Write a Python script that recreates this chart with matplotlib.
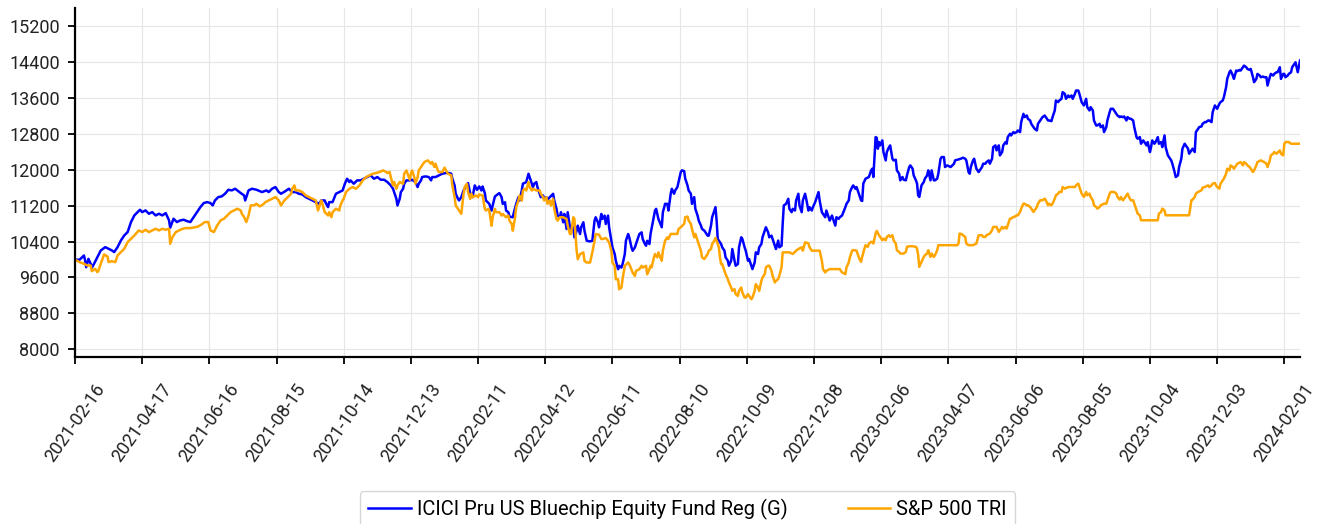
import matplotlib
matplotlib.use('Agg')
import matplotlib.pyplot as plt
import pandas as pd

plt.rcParams['font.family'] = ['Roboto', 'DejaVu Sans']

start_date = '2021-02-16'
fund_label = 'ICICI Pru US Bluechip Equity Fund Reg (G)'
bench_label = 'S&P 500 TRI'

# day offsets from start_date and values
fund_days = [
    0, 4, 8, 9, 10, 12, 14, 15, 17, 20, 23, 27, 30, 33, 35, 38, 41, 44, 47, 50,
    53, 56, 58, 60, 63, 66, 69, 72, 75, 78, 81, 84, 85, 88, 91, 94, 97, 100, 103, 106,
    109, 112, 115, 118, 121, 123, 125, 128, 131, 134, 137, 140, 143, 148, 151, 152, 155, 158, 162, 167,
    171, 173, 176, 179, 182, 184, 188, 191, 194, 197, 200, 203, 206, 209, 212, 215, 218, 220, 223, 224,
    226, 227, 230, 233, 236, 239, 241, 243, 245, 246, 249, 252, 255, 258, 261, 264, 267, 270, 273, 276,
    279, 282, 284, 285, 287, 288, 290, 291, 293, 294, 296, 299, 301, 304, 306, 307, 309, 310, 313, 316,
    318, 319, 322, 325, 328, 331, 334, 336, 337, 339, 340, 342, 343, 345,
    347, 349, 351, 353, 355, 357, 359, 361, 363, 364, 366, 367, 370, 372, 373, 375, 378, 379, 381, 382,
    384, 385, 387, 388, 391, 392, 394, 396, 397, 399, 400, 403, 405, 406, 408, 409, 410, 412, 413, 415,
    416, 418, 419, 421, 422, 424, 427, 428, 430, 431, 433, 434, 436, 437, 439, 440, 442, 443, 445, 446,
    448, 449, 451, 452, 454, 455, 457, 460, 462, 464, 465, 467, 468, 470, 471, 473, 474, 476, 477, 479,
    480, 482, 483, 485, 486, 488, 489, 491, 492, 494, 495, 497, 498, 500, 501, 503, 504, 506, 507, 509,
    510, 511, 513,
    514, 516, 518, 519, 521, 524, 525, 527, 529, 530, 532, 533, 535, 536, 538, 539, 541, 542, 544, 545,
    547, 548, 550, 551, 553, 554, 556, 557, 559, 560, 562, 563, 565, 566, 568, 569, 571, 572, 573, 574,
    575, 577, 578, 580, 581, 583, 584, 586, 587, 589, 590, 592, 593, 595, 596, 598, 599, 601, 602, 604,
    605, 607, 608, 610, 611, 613, 614, 616, 617, 619, 620, 622, 623, 625, 626, 628, 629, 631, 632, 633,
    635, 637, 638, 640, 641, 643, 644, 646, 647, 649, 650, 652, 653, 655, 656, 658, 659, 661, 664, 665,
    667, 668, 670, 671, 673, 674, 676, 677, 679, 680, 682, 683, 685, 688, 689, 691, 692, 694, 695, 697,
    698, 700,
    702, 703, 704, 706, 709, 711, 712, 713, 715, 716, 717, 718, 719, 721, 722, 724, 725, 727, 728, 730,
    731, 733, 734, 736, 737, 739, 740, 742, 743, 745, 746, 748, 749, 751, 752, 753, 754, 756, 758, 759,
    761, 762, 764, 765, 767, 768, 770, 771, 773, 774, 776, 777, 779, 782, 785, 786, 788, 791, 793, 795,
    796, 798, 799, 800, 802, 803, 804, 805, 807, 808, 810, 811, 813, 814, 816, 817, 819, 820, 822, 823,
    825, 826, 828, 829, 831, 832, 833, 835, 836, 838, 839, 841, 842, 844, 845, 847, 848, 850, 851, 853,
    854, 856, 857, 859, 860,
    864, 866, 867, 869, 870, 872, 873, 875, 876, 878, 879, 881, 882, 884, 885, 887, 888, 890, 891, 893,
    894, 896, 897, 899, 900, 901, 903, 904, 906, 907, 909, 910, 912, 913, 915, 916, 918, 919, 921, 922,
    924, 925, 927, 928, 930, 931, 933, 934, 936, 937, 939, 940, 942, 943, 945, 946, 948, 949, 951, 952,
    954, 955, 957, 958, 960, 961, 962, 964, 965, 967, 968, 970, 971, 973, 974, 976, 977, 979, 980, 982,
    983, 985, 986, 988, 989, 991, 992, 994, 995, 997, 998, 1000, 1001, 1003, 1004, 1006, 1007, 1009, 1010, 1012,
    1013, 1015, 1016, 1018, 1019, 1020, 1022, 1023, 1025, 1026, 1028, 1029, 1031, 1032, 1034, 1035, 1037, 1038, 1040, 1041,
    1043, 1044, 1046, 1047, 1049, 1050, 1052, 1053, 1055, 1056, 1058, 1059, 1061, 1062, 1064, 1065, 1067, 1068, 1070, 1071,
    1073, 1074, 1076, 1077, 1079, 1080, 1081, 1083, 1084, 1086, 1087, 1089, 1090, 1092, 1094,
]
fund_values = [
    10000, 9994, 10090, 9980, 9830, 10016, 9905, 9815, 9905, 10053, 10202, 10276, 10239, 10202, 10165, 10276, 10425, 10536, 10611, 10834,
    10982, 11056, 11108, 11056, 11094, 11019, 11056, 10982, 11019, 10982, 11034, 10871, 10707, 10908, 10834, 10871, 10886, 10856, 10834, 10945,
    11056, 11168, 11257, 11279, 11257, 11205, 11316, 11391, 11406, 11465, 11554, 11539, 11576, 11480, 11428, 11316, 11539, 11576, 11554, 11502,
    11539, 11502, 11576, 11613, 11502, 11464, 11524, 11576, 11502, 11502, 11464, 11449, 11390, 11353, 11316, 11278, 11241, 11316, 11316, 11256,
    11167, 11278, 11278, 11464, 11502, 11539, 11688, 11799, 11725, 11762, 11688, 11762, 11762, 11799, 11836, 11874, 11799, 11836, 11777, 11777,
    11725, 11650, 11576, 11502, 11353, 11204, 11353, 11502, 11576, 11688, 11762, 11762, 11777, 11725, 11613, 11688, 11762, 11836, 11851, 11836,
    11762, 11836, 11836, 11874, 11911, 11926, 11926, 11911, 11799, 11650, 11464, 11353, 11316, 11390,
    11537, 11627, 11702, 11463, 11388, 11650, 11552, 11627, 11537, 11627, 11478, 11314, 11239, 11090, 11202, 11403, 11463, 11478, 11388, 11239,
    11276, 11090, 11053, 10956, 10941, 11053, 11239, 11388, 11314, 11537, 11687, 11724, 11910, 11836, 11687, 11612, 11687, 11724, 11612, 11463,
    11388, 11426, 11351, 11388, 11329, 11388, 11463, 11314, 11127, 10978, 10941, 11053, 10829, 11015, 10680, 11053, 10717, 10642, 10717, 10493,
    10642, 10754, 10568, 10717, 10829, 10642, 10418, 10404, 10418, 10866, 10941, 10829, 10717, 11015, 10903, 10978, 10791, 10978, 10717, 10418,
    10269, 10120, 9971, 9784, 9859, 9822, 9896, 10120, 10418, 10568, 10493, 10269, 10195, 10269, 10344, 10493, 10568, 10605, 10456, 10344,
    10307, 10418, 10344,
    10570, 10830, 11091, 11128, 10905, 10719, 11054, 11240, 11240, 11091, 11464, 11575, 11464, 11538, 11613, 11724, 11948, 11985, 11970, 11799,
    11650, 11538, 11464, 11240, 11389, 11128, 10979, 10868, 10756, 10681, 10644, 10607, 10532, 10532, 10756, 10942, 11091, 11166, 10868, 10458,
    10421, 10346, 10272, 10197, 10048, 9974, 9862, 9974, 10234, 9974, 9862, 9899, 10272, 10495, 10458, 10272, 10197, 9974, 10011, 9862,
    9787, 9936, 10160, 10123, 10272, 10346, 10495, 10644, 10719, 10607, 10495, 10532, 10458, 10309, 10234, 10421, 10272, 10309, 10793, 11203,
    11240, 11352, 11128, 11054, 11128, 11091, 11315, 11464, 11203, 11054, 11315, 11464, 11352, 11091, 11166, 11091, 11166, 11277, 11501, 11315,
    11054, 11017, 10942, 11091, 10942, 10868, 10979, 10905, 10756, 10942, 10905, 10942, 10979, 11166, 11240, 11315, 11501, 11613, 11650, 11575,
    11613, 11464,
    11319, 11304, 11689, 11800, 11837, 11985, 12022, 11837, 12726, 12711, 12467, 12615, 12541, 12652, 12393, 12207, 12393, 12504, 12541, 12244,
    12207, 12222, 11985, 11911, 11763, 11837, 11778, 11763, 11874, 12059, 12096, 12022, 11874, 11763, 11689, 11430, 11393, 11652, 11726, 11800,
    11874, 11985, 11763, 11985, 11763, 11763, 11800, 11911, 12244, 12281, 12281, 12059, 12096, 12059, 12133, 12207, 12222, 12244, 12267, 12244,
    12207, 11948, 11911, 12059, 12207, 12244, 12133, 12022, 11948, 11985, 12059, 12133, 12133, 12170, 12207, 12133, 12244, 12504, 12541, 12430,
    12541, 12318, 12393, 12541, 12615, 12578, 12726, 12800, 12763, 12837, 12815, 12837, 12874, 12837, 13059, 13244, 13170, 13207, 13133, 13096,
    13022, 12948, 12911, 12874, 13022,
    13170, 13207, 13170, 13096, 13096, 13081, 13170, 13319, 13541, 13504, 13541, 13578, 13726, 13689, 13578, 13652, 13615, 13652, 13578, 13689,
    13763, 13763, 13689, 13504, 13467, 13430, 13578, 13393, 13319, 13393, 13319, 13096, 12985, 12985, 13022, 12948, 12985, 12837, 12948, 13096,
    13281, 13356, 13356, 13319, 13244, 13207, 13170, 13185, 13170, 13185, 13096, 13170, 13133, 13133, 13096, 12948, 12726, 12689, 12726, 12578,
    12652, 12615, 12541, 12615, 12393, 12504, 12652, 12578, 12615, 12726, 12578, 12615, 12504, 12763, 12504, 12319, 12281, 12207, 12133, 11948,
    11837, 11874, 12059, 12244, 12467, 12578, 12541, 12467, 12356, 12430, 12467, 12393, 12837, 12911, 12948, 12963, 13022, 13059, 13059, 13096,
    13096, 13059, 13281, 13430, 13393, 13356, 13467, 13504, 13541, 13615, 13837, 14022, 14170, 14207, 14096, 14022, 14207, 14193, 14222, 14207,
    14281, 14318, 14281, 14244, 14222, 14244, 14059, 13948, 14022, 14133, 14096, 14059, 14074, 14059, 14059, 13874, 14059, 14133, 14096, 14133,
    14170, 14170, 14281, 14022, 14133, 14133, 14059, 14096, 14133, 14170, 14281, 14356, 14392, 14170, 14430,
]

bench_days = [
    0, 4, 8, 11, 14, 15, 18, 20, 21, 23, 26, 29, 30, 33, 36, 38, 41, 44, 47, 50,
    53, 57, 60, 63, 66, 69, 72, 75, 78, 81, 84, 85, 87, 90, 93, 96, 99, 103, 108, 110,
    113, 116, 119, 121, 124, 127, 130, 133, 136, 139, 142, 145, 148, 149, 151, 153, 155, 157, 160, 162,
    165, 168,
    170, 173, 176, 179, 182, 184, 187, 190, 193, 194, 196, 197, 200, 203, 206, 209, 212, 215, 217, 218,
    220, 221, 223, 226, 227, 229, 230, 233, 236, 237, 239, 240, 242, 245, 248, 251, 254, 257, 260, 263,
    266, 269, 272, 275, 278, 279, 281, 282, 284, 285, 287, 288, 290, 293, 294, 296, 297, 299, 300, 301,
    303, 304, 306, 307, 310, 312, 315, 318, 319, 321, 322, 324, 325, 328, 330, 333, 336, 337, 339, 340,
    343, 345,
    347, 348, 350, 351, 353, 354, 355, 358, 360, 361, 364, 366, 367, 369, 370, 372, 373, 375, 376, 379,
    381, 382, 385, 387, 388, 390, 391, 393, 394, 396, 397, 399, 400, 402, 403, 405, 406, 408, 409, 412,
    415, 416, 418, 419, 421, 422, 424, 425, 427, 428, 430, 431, 433, 436, 439, 440, 442, 443, 445, 446,
    448, 449, 451, 454, 455, 457, 460, 461, 462, 464, 465, 468, 470, 471, 474, 476, 477, 479, 480, 482,
    483, 485, 486, 488, 489, 491, 494, 495, 498, 500, 501, 504, 506, 507, 510, 511, 513,
    514, 515, 517, 518, 520, 521, 524, 525, 527, 529, 530, 532, 535, 538, 539, 541, 544, 545, 547, 548,
    550, 551, 553, 554, 556, 557, 559, 560, 562, 563, 565, 566, 568, 569, 571, 572, 573, 575, 576, 577,
    578, 580, 581, 583, 584, 586, 587, 589, 590, 592, 593, 595, 596, 598, 599, 601, 602, 604, 605, 607,
    608, 610, 611, 613, 614, 616, 617, 619, 620, 622, 623, 625, 626, 628, 629, 631, 632, 635, 638, 641,
    644, 646, 649, 650, 652, 655, 656, 658, 661, 664, 665, 667, 668, 670, 671, 674, 680, 683, 685, 688,
    689, 691, 692, 694, 695, 698, 700,
    702, 703, 705, 706, 708, 709, 711, 712, 713, 715, 716, 718, 721, 722, 724, 725, 727, 728, 730, 731,
    733, 734, 736, 737, 740, 742, 743, 745, 748, 751, 752, 753, 754, 756, 758, 759, 761, 762, 764, 765,
    767, 768, 770, 771, 788, 789, 790, 792, 793, 795, 796, 798, 802, 805, 807, 810, 811, 813, 814, 817,
    819, 820, 823, 825, 826, 828, 829, 831, 832, 833, 835, 836, 838, 839, 841, 842, 844, 845, 847, 848,
    850, 851, 853, 854, 856, 857, 859, 860, 862,
    864, 866, 867, 869, 870, 872, 873, 875, 876, 878, 879, 881, 882, 884, 887, 890, 893, 894, 896, 897,
    899, 900, 901, 903, 904, 906, 907, 909, 910, 912, 913, 915, 916, 919, 921, 922, 924, 925, 928, 930,
    931, 933, 934, 936, 937, 939, 940, 942, 943, 945, 946, 948, 949, 951, 952, 967, 968, 970, 971, 973,
    974, 995, 997, 998, 1000, 1001, 1003, 1006, 1007, 1009, 1012, 1013, 1015, 1016, 1018, 1019, 1020, 1022, 1023, 1025,
    1026, 1028, 1029, 1031, 1032, 1034, 1035, 1037, 1038, 1041, 1043, 1044, 1046, 1047, 1049, 1050, 1052, 1053, 1055, 1056,
    1059, 1062, 1064, 1065, 1067, 1068, 1070, 1071, 1073, 1076, 1077, 1079, 1080, 1081, 1084, 1086, 1094,
]
bench_values = [
    10000, 9942, 9905, 9868, 9868, 9741, 9793, 9719, 9756, 9905, 10113, 10068, 9942, 9964, 9942, 10091, 10165, 10239, 10388, 10462,
    10536, 10648, 10611, 10663, 10611, 10648, 10685, 10648, 10685, 10663, 10685, 10351, 10499, 10611, 10648, 10685, 10700, 10700, 10722, 10737,
    10781, 10834, 10834, 10648, 10611, 10759, 10871, 10908, 10982, 11056, 11094, 11131, 11094, 11019, 10945, 10834, 10982, 11205, 11205, 11242,
    11183, 11227,
    11278, 11316, 11353, 11390, 11316, 11204, 11316, 11390, 11464, 11576, 11650, 11539, 11539, 11502, 11427, 11390, 11353, 11316, 11092, 11167,
    11316, 11241, 11055, 10981, 11055, 10944, 11055, 11130, 11092, 11204, 11316, 11353, 11502, 11576, 11613, 11576, 11650, 11762, 11836, 11874,
    11911, 11926, 11948, 11985, 11948, 11926, 11948, 11836, 11650, 11725, 11576, 11650, 11725, 11688, 11911, 11985, 11911, 11777, 11911, 11985,
    11836, 11688, 11836, 11985, 12097, 12171, 12208, 12134, 12171, 12060, 12134, 11985, 11948, 11948, 12045, 11911, 11874, 11650, 11390, 11204,
    11092, 11018,
    11463, 11612, 11687, 11500, 11351, 11463, 11388, 11426, 11388, 11448, 11426, 11127, 11090, 11127, 11090, 10754, 10941, 11127, 11053, 11053,
    10978, 11015, 10941, 10978, 10866, 10791, 10642, 10941, 11165, 11314, 11426, 11314, 11537, 11575, 11537, 11724, 11612, 11537, 11575, 11537,
    11537, 11463, 11388, 11314, 11388, 11239, 11314, 11202, 11351, 11127, 10903, 10866, 10941, 10941, 10903, 10754, 10568, 10568, 10941, 10903,
    10195, 10008, 10120, 10157, 9971, 9933, 9933, 10045, 10157, 10418, 10568, 10553, 10456, 10456, 10478, 10418, 10381, 10195, 9933, 9859,
    9561, 9561, 9337, 9374, 9561, 9859, 9933, 9896, 9710, 9635, 9747, 9784, 9859, 9822, 9859, 9672, 9784,
    9862, 9825, 10048, 10123, 10048, 10160, 9974, 10197, 10421, 10495, 10458, 10570, 10570, 10570, 10681, 10719, 10793, 10942, 10957, 10868,
    10793, 10681, 10495, 10570, 10421, 10346, 10197, 10048, 10011, 10048, 10123, 10197, 10234, 10346, 10421, 10480, 10421, 10272, 10048, 9899,
    9899, 9750, 9676, 9564, 9489, 9377, 9303, 9340, 9229, 9191, 9303, 9377, 9266, 9154, 9154, 9229, 9191, 9117, 9154, 9303,
    9452, 9377, 9303, 9526, 9601, 9676, 9825, 9862, 9862, 9750, 9638, 9489, 9526, 9564, 9638, 9825, 10160, 10160, 10160, 10123,
    10197, 10234, 10272, 10197, 10383, 10361, 10272, 10197, 10197, 10197, 10197, 9974, 9787, 9713, 9750, 9787, 9787, 9787, 9713, 9676,
    9825, 9936, 10048, 10197, 10212, 10197, 10048,
    9948, 10059, 10244, 10319, 10282, 10356, 10393, 10393, 10356, 10578, 10637, 10541, 10430, 10467, 10430, 10504, 10541, 10504, 10541, 10430,
    10356, 10207, 10170, 10133, 10133, 10170, 10282, 10296, 10296, 10282, 10244, 10096, 9837, 9948, 10059, 10096, 10133, 10207, 10059, 10133,
    10059, 10096, 10207, 10319, 10319, 10356, 10578, 10563, 10541, 10504, 10356, 10319, 10319, 10356, 10541, 10541, 10504, 10504, 10541, 10578,
    10652, 10726, 10726, 10615, 10652, 10726, 10689, 10726, 10689, 10763, 10911, 10911, 10948, 10948, 10985, 10985, 11059, 11133, 11244, 11244,
    11207, 11207, 11170, 11133, 11059, 11096, 11170, 11244, 11319,
    11319, 11356, 11319, 11207, 11244, 11207, 11244, 11356, 11430, 11467, 11504, 11504, 11615, 11578, 11615, 11615, 11615, 11652, 11689, 11615,
    11467, 11430, 11393, 11504, 11430, 11467, 11393, 11319, 11207, 11170, 11133, 11170, 11207, 11244, 11244, 11319, 11467, 11504, 11504, 11467,
    11393, 11333, 11393, 11319, 11356, 11430, 11467, 11356, 11319, 11319, 11244, 11096, 11022, 10985, 10874, 10874, 11022, 11059, 11133, 11096,
    10985, 10985, 11319, 11333, 11393, 11467, 11504, 11541, 11600, 11615, 11652, 11615, 11652, 11689, 11704, 11652, 11615, 11578, 11689, 11763,
    11800, 11911, 12022, 11985, 12096, 12059, 12022, 12096, 12133, 12170, 12096, 12170, 12133, 12096, 12059, 12022, 11948, 11985, 12096, 12170,
    12207, 12170, 12133, 12059, 12207, 12319, 12356, 12393, 12356, 12430, 12356, 12319, 12578, 12615, 12615, 12578, 12578,
]

y_ticks = [8000, 8800, 9600, 10400, 11200, 12000, 12800, 13600, 14400, 15200]
x_tick_step_days = 60
x_tick_count = 19

start = pd.Timestamp(start_date)
fund_dates = (start + pd.to_timedelta(fund_days, unit='D')).to_pydatetime()
bench_dates = (start + pd.to_timedelta(bench_days, unit='D')).to_pydatetime()

fig = plt.figure(figsize=(13.21, 5.24), dpi=100)
ax = fig.add_axes([75 / 1321, 1 - 357 / 524, (1300 - 75) / 1321, (357 - 8) / 524])

ax.plot(fund_dates, fund_values, color='#0000ff', lw=1.8, label=fund_label)
ax.plot(bench_dates, bench_values, color='#ffa500', lw=1.8, label=bench_label)

ax.set_xlim(fund_dates[0], fund_dates[-1])
ax.set_ylim(7830, 15600)

xt = pd.date_range(start, periods=x_tick_count, freq=f'{x_tick_step_days}D')
ax.set_xticks(xt.to_pydatetime())
ax.set_xticklabels([d.strftime('%Y-%m-%d') for d in xt], rotation=55, ha='center')
ax.set_yticks(y_ticks)
ax.set_yticklabels([str(v) for v in y_ticks])

ax.grid(True, color='#e6e6e6', lw=0.8)
ax.set_axisbelow(True)
for s in ['top', 'right']:
    ax.spines[s].set_visible(False)
for s in ['left', 'bottom']:
    ax.spines[s].set_linewidth(1.6)
    ax.spines[s].set_color('black')
ax.tick_params(axis='both', length=5, width=1.3, labelsize=13, colors='black', labelcolor='#222222')
ax.tick_params(axis='x', pad=12)
ax.tick_params(axis='y', pad=6)

leg = ax.legend(loc='upper center', bbox_to_anchor=(0.5, -0.383), ncol=2, fontsize=14.5,
                frameon=True, handletextpad=0.3, columnspacing=3.0, borderpad=0.4,
                handlelength=2.1, borderaxespad=0)
leg.get_frame().set_edgecolor('#cccccc')
leg.get_frame().set_linewidth(1.0)

fig.savefig('out.png', dpi=100)
